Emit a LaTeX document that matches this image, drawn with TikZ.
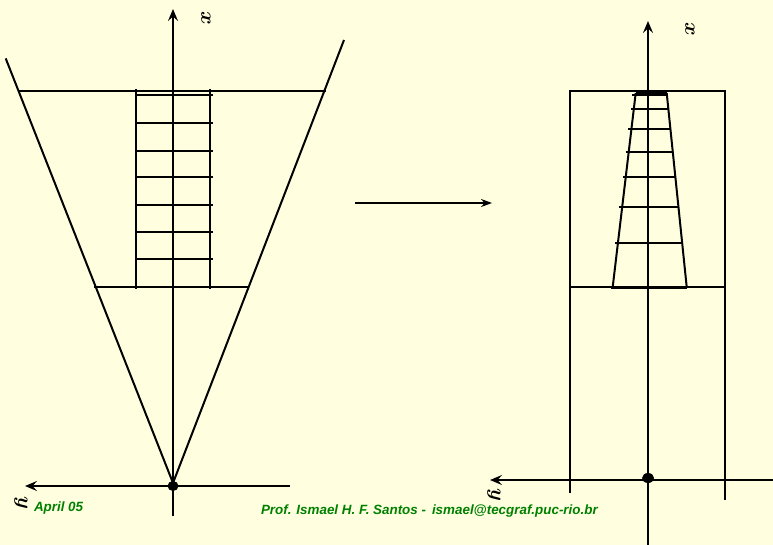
\documentclass[tikz,border=0pt]{standalone}
\usepackage{fontspec}
\newfontfamily\footfont{Liberation Sans}
\usetikzlibrary{arrows.meta, positioning, calc}
\definecolor{slidebg}{RGB}{255,255,224}
\definecolor{footgreen}{RGB}{0,128,0}

\begin{document}
\begin{tikzpicture}[
    x=1pt, y=-1pt,
    line width=2pt,
    axis/.style={-{Stealth[length=12pt, width=10pt, inset=4.5pt]}, line width=2pt},
    gridline/.style={line width=2pt},
    axlabel/.style={rotate=-90, inner sep=0pt, font=\fontsize{21}{23}\selectfont\boldmath},
    footer/.style={anchor=west, inner sep=0pt, text=footgreen, font=\footfont\bfseries\itshape\fontsize{13.4}{15}\selectfont}
  ]

    % Background and page size
    \fill[slidebg] (0,0) rectangle (773,545);
    \useasboundingbox (0,0) rectangle (773,545);

    % Left: view volume in camera space
    \coordinate (lorig) at (173,486);
    \draw[axis] (173,516) -- (173,9);
    \draw[axis] (290,486) -- (25,486);
    \node[axlabel] (lx) at (206,18) {$x$};
    \node[axlabel] (ly) at (21,503) {$y$};

    % Frustum sides and clipping planes
    \draw (5.7,58.4) -- (173,483) -- (344,40);
    \draw (19,91) -- (326,91);
    \draw (94,287) -- (249,287);

    % Object grid
    \foreach \x in {136,210} {
      \draw[gridline] (\x,89) -- (\x,289);
    }
    \foreach \y in {95,123,151,177,205,232,259} {
      \draw[gridline] (136,\y) -- (213,\y);
    }
    \fill (lorig) ellipse (5.5 and 5);

    % Mapping arrow
    \coordinate (mapfrom) at (355,203);
    \coordinate (mapto) at (492,203);
    \draw[-{Stealth[length=11pt, width=8pt]}] (mapfrom) -- (mapto);

    % Right: normalized volume
    \coordinate (rorig) at (648,478);
    \draw[axis] (648,545) -- (648,21);
    \draw[axis] (773,480) -- (490,480);
    \node[axlabel] (rx) at (690,29) {$x$};
    \node[axlabel] (ry) at (494,495) {$y$};

    % Box walls
    \draw (570,493) -- (570,91) -- (725,91) -- (725,500);
    \draw (570,287) -- (725,287);

    % Distorted grid
    \coordinate (tl) at (635.7,93);
    \coordinate (tr) at (666.7,93);
    \coordinate (bl) at (612.7,287);
    \coordinate (br) at (686.7,287);
    \draw[gridline] (tl) -- (bl);
    \draw[gridline] (tr) -- (br);
    \draw[gridline] (tl) -- (tr);
    \draw[line width=3pt] ($(bl)+(-2,0)$) -- (br);
    \foreach \y in {95,109,129,152,177,207,243} {
      \draw[gridline] ($(tl)!{(\y-93)/194}!(bl)+(-3,0)$) -- ($(tr)!{(\y-93)/194}!(br)$);
    }
    \fill (rorig) ellipse (6 and 5);

    % Footer
    \node[footer] (date) at (33,508) {April 05};
    \node[footer] (author) at (260,511) {Prof. Ismael H. F. Santos - \,ismael@tecgraf.puc-rio.br};

  \end{tikzpicture}
\end{document}
